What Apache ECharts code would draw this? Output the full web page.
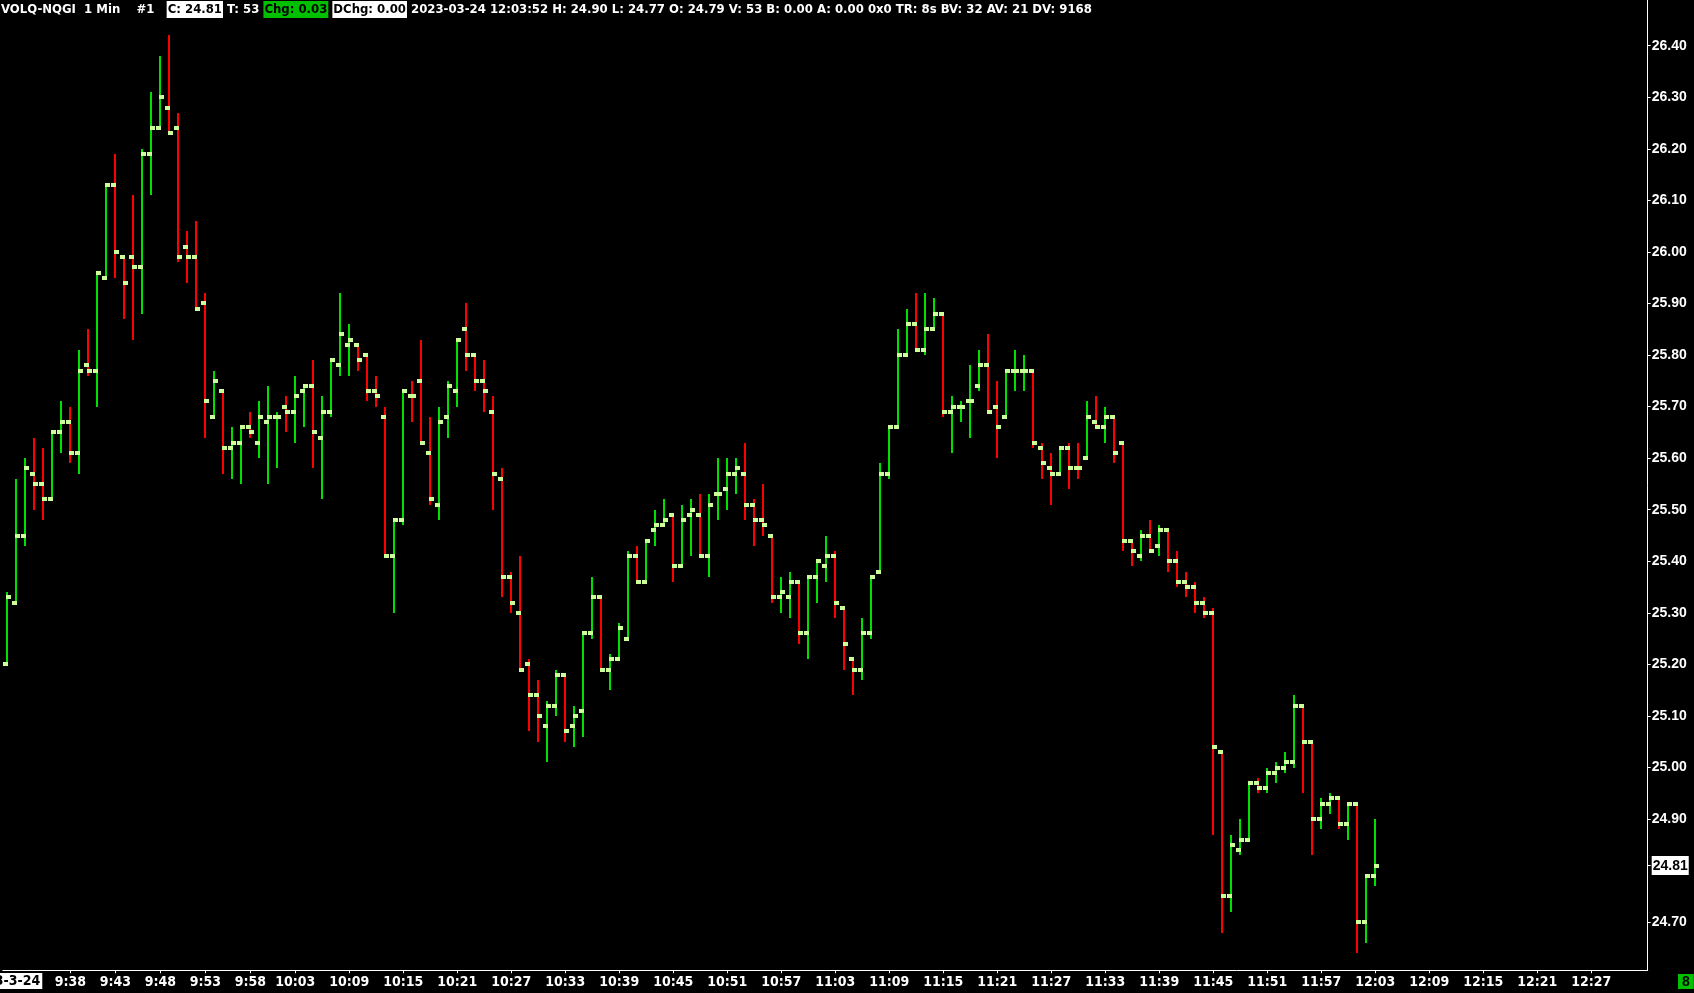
<!DOCTYPE html>
<html><head><meta charset="utf-8">
<script src="https://cdn.jsdelivr.net/npm/echarts@6/dist/echarts.min.js"></script>
<style>html,body{margin:0;padding:0;background:#000;overflow:hidden}#c{width:1694px;height:993px}</style>
</head><body><div id="c"></div>
<script>
// ---- data ----
const times = [
'9:31','9:32','9:33','9:34','9:35','9:36','9:37','9:38','9:39','9:40','9:41','9:42','9:43','9:44','9:45','9:46','9:47','9:48','9:49','9:50','9:51','9:52','9:53','9:54','9:55','9:56','9:57','9:58','9:59',
'10:00','10:01','10:02','10:03','10:04','10:05','10:06','10:07','10:08','10:09','10:10','10:11','10:12','10:13','10:14','10:15','10:16','10:17','10:18','10:19','10:20','10:21','10:22','10:23','10:24','10:25','10:26','10:27','10:28','10:29','10:30','10:31','10:32','10:33','10:34','10:35','10:36','10:37','10:38','10:39','10:40','10:41','10:42','10:43','10:44','10:45','10:46','10:47','10:48','10:49','10:50','10:51','10:52','10:53','10:54','10:55','10:56','10:57','10:58','10:59',
'11:00','11:01','11:02','11:03','11:04','11:05','11:06','11:07','11:08','11:09','11:10','11:11','11:12','11:13','11:14','11:15','11:16','11:17','11:18','11:19','11:20','11:21','11:22','11:23','11:24','11:25','11:26','11:27','11:28','11:29','11:30','11:31','11:32','11:33','11:34','11:35','11:36','11:37','11:38','11:39','11:40','11:41','11:42','11:43','11:44','11:45','11:46','11:47','11:48','11:49','11:50','11:51','11:52','11:53','11:54','11:55','11:56','11:57','11:58','11:59',
'12:00','12:01','12:02','12:03','12:04','12:05','12:06','12:07','12:08','12:09','12:10','12:11','12:12','12:13','12:14','12:15','12:16','12:17','12:18','12:19','12:20','12:21','12:22','12:23','12:24','12:25','12:26','12:27','12:28','12:29','12:30','12:31','12:32','12:33'];

const timeLabels = ['9:38','9:43','9:48','9:53','9:58','10:03','10:09','10:15','10:21','10:27','10:33','10:39','10:45','10:51','10:57','11:03','11:09','11:15','11:21','11:27','11:33','11:39','11:45','11:51','11:57','12:03','12:09','12:15','12:21','12:27'];
const priceTicks = [26.40,26.30,26.20,26.10,26.00,25.90,25.80,25.70,25.60,25.50,25.40,25.30,25.20,25.10,25.00,24.90,24.70];
const lastPrice = 24.81;

const opens = [25.20,25.32,25.45,25.57,25.55,25.52,25.65,25.67,25.61,25.78,25.77,25.95,26.13,25.99,25.99,25.97,26.19,26.24,26.28,26.24,
26.01,25.99,25.90,25.68,25.73,25.62,25.63,25.66,25.63,25.67,25.68,25.70,25.69,25.73,25.74,25.64,25.69,25.78,25.82,25.82,
25.80,25.73,25.68,25.41,25.48,25.72,25.75,25.61,25.51,25.68,25.73,25.85,25.80,25.75,25.69,25.56,25.37,25.30,25.20,25.14,
25.08,25.12,25.18,25.08,25.11,25.26,25.33,25.19,25.21,25.25,25.41,25.36,25.46,25.47,25.49,25.39,25.49,25.49,25.41,25.53,
25.54,25.57,25.57,25.51,25.48,25.45,25.33,25.33,25.36,25.26,25.37,25.39,25.41,25.31,25.21,25.19,25.26,25.38,25.57,25.66,
25.80,25.86,25.81,25.85,25.88,25.69,25.70,25.71,25.74,25.78,25.70,25.68,25.77,25.77,25.77,25.62,25.58,25.57,25.62,25.58,
25.60,25.67,25.66,25.68,25.63,25.44,25.41,25.45,25.43,25.46,25.40,25.36,25.35,25.32,25.30,25.03,24.75,24.84,24.86,24.97,
24.96,24.99,25.00,25.01,25.12,25.05,24.90,24.93,24.94,24.89,24.93,24.70,24.79];
const highs = [25.34,25.56,25.60,25.64,25.62,25.65,25.71,25.70,25.81,25.85,25.96,26.13,26.19,25.99,26.11,26.20,26.31,26.38,26.42,26.27,
26.04,26.06,25.92,25.77,25.73,25.66,25.66,25.69,25.71,25.74,25.69,25.72,25.76,25.74,25.79,25.72,25.79,25.92,25.86,25.82,
25.80,25.76,25.70,25.48,25.73,25.75,25.83,25.68,25.70,25.75,25.83,25.90,25.80,25.79,25.72,25.58,25.38,25.41,25.21,25.17,
25.13,25.19,25.18,25.12,25.26,25.37,25.33,25.22,25.28,25.42,25.43,25.44,25.50,25.52,25.49,25.51,25.52,25.53,25.53,25.60,
25.60,25.60,25.63,25.52,25.55,25.45,25.37,25.38,25.36,25.37,25.40,25.45,25.42,25.31,25.21,25.29,25.37,25.59,25.66,25.85,
25.89,25.92,25.92,25.91,25.88,25.72,25.71,25.78,25.81,25.84,25.75,25.77,25.81,25.80,25.77,25.63,25.61,25.62,25.63,25.63,
25.71,25.72,25.70,25.68,25.63,25.44,25.46,25.48,25.47,25.46,25.42,25.38,25.36,25.33,25.31,25.03,24.87,24.90,24.97,24.98,
25.00,25.01,25.03,25.14,25.12,25.05,24.94,24.95,24.94,24.93,24.93,24.79,24.90];
const lows = [25.20,25.32,25.43,25.50,25.48,25.52,25.61,25.59,25.57,25.76,25.70,25.95,25.95,25.87,25.83,25.88,26.11,26.24,26.23,25.98,
25.94,25.89,25.64,25.68,25.57,25.56,25.55,25.64,25.60,25.55,25.58,25.65,25.63,25.66,25.58,25.52,25.68,25.76,25.76,25.77,
25.71,25.70,25.41,25.30,25.47,25.67,25.63,25.51,25.48,25.64,25.70,25.77,25.73,25.69,25.50,25.33,25.30,25.19,25.07,25.05,
25.01,25.10,25.05,25.04,25.06,25.25,25.19,25.15,25.21,25.25,25.36,25.36,25.43,25.47,25.36,25.39,25.41,25.41,25.37,25.48,
25.50,25.53,25.48,25.43,25.45,25.32,25.30,25.29,25.24,25.21,25.32,25.36,25.29,25.19,25.14,25.17,25.25,25.38,25.56,25.66,
25.80,25.81,25.80,25.85,25.68,25.61,25.67,25.64,25.73,25.69,25.60,25.68,25.73,25.73,25.62,25.56,25.51,25.57,25.54,25.56,
25.60,25.66,25.63,25.59,25.42,25.39,25.40,25.42,25.41,25.38,25.35,25.33,25.30,25.29,24.87,24.68,24.72,24.83,24.86,24.95,
24.95,24.97,24.99,25.00,24.95,24.83,24.88,24.91,24.88,24.86,24.64,24.66,24.77];
const closes = [25.33,25.45,25.58,25.55,25.52,25.65,25.67,25.61,25.77,25.77,25.96,26.13,26.00,25.94,25.97,26.19,26.24,26.30,26.23,25.99,
25.99,25.89,25.71,25.75,25.62,25.63,25.66,25.65,25.68,25.68,25.68,25.69,25.72,25.74,25.65,25.69,25.79,25.84,25.83,25.79,
25.73,25.72,25.41,25.48,25.73,25.72,25.63,25.52,25.67,25.74,25.83,25.80,25.75,25.73,25.57,25.37,25.32,25.19,25.14,25.10,
25.12,25.18,25.07,25.10,25.26,25.33,25.19,25.21,25.27,25.41,25.36,25.44,25.47,25.48,25.39,25.48,25.50,25.41,25.51,25.53,
25.57,25.58,25.51,25.48,25.47,25.33,25.34,25.36,25.26,25.37,25.40,25.41,25.32,25.24,25.19,25.26,25.37,25.57,25.66,25.80,
25.86,25.81,25.85,25.88,25.69,25.70,25.70,25.71,25.78,25.69,25.66,25.77,25.77,25.77,25.63,25.59,25.57,25.62,25.58,25.58,
25.68,25.66,25.68,25.61,25.44,25.42,25.45,25.42,25.46,25.40,25.36,25.35,25.32,25.30,25.04,24.75,24.85,24.86,24.97,24.96,
24.99,25.00,25.01,25.12,25.05,24.90,24.93,24.94,24.89,24.93,24.70,24.79,24.81];

// ---- build ----
const GREEN = '#00e000', RED = '#ff0000', TICKC = '#ccff99';
const FONT_NARROW = "'Liberation Sans Narrow','DejaVu Sans Condensed','Roboto Condensed','Liberation Sans',Arial,sans-serif";
const FONT_AX = "'Liberation Sans',Arial,sans-serif";
const data = [];
let prevUp = true;
for (let i = 0; i < opens.length; i++) {
  let up;
  if (closes[i] > opens[i]) up = true;
  else if (closes[i] < opens[i]) up = false;
  else if (i > 0 && closes[i] > closes[i-1]) up = true;
  else if (i > 0 && closes[i] < closes[i-1]) up = false;
  else up = prevUp;
  prevUp = up;
  data.push([i, opens[i], highs[i], lows[i], closes[i], up ? 1 : 0]);
}
const labelIdx = timeLabels.map(t => times.indexOf(t));

const chart = echarts.init(document.getElementById('c'), null, {renderer: 'canvas'});
const header = '{a|VOLQ-NQGI  1 Min    #1   }{w|C: 24.81}{a| T: 53 }{g|Chg: 0.03}{a| }{w|DChg: 0.00}{a| 2023-03-24 12:03:52 H: 24.90 L: 24.77 O: 24.79 V: 53 B: 0.00 A: 0.00 0x0 TR: 8s BV: 32 AV: 21 DV: 9168}';
chart.setOption({
  animation: false,
  backgroundColor: '#000',
  title: [
    {text: header, left: 1, top: 1, padding: 0,
     textStyle: {fontFamily: FONT_NARROW, fontSize: 13, fontWeight: 'bold',
       rich: {
         a: {color: '#fff', fontFamily: FONT_NARROW, fontSize: 13, fontWeight: 'bold', padding: [2,0,2,0]},
         w: {color: '#000', backgroundColor: '#fff', fontFamily: FONT_NARROW, fontSize: 13, fontWeight: 'bold', padding: [2,1,2,1]},
         g: {color: '#000', backgroundColor: '#00c000', fontFamily: FONT_NARROW, fontSize: 13, fontWeight: 'bold', padding: [2,1,2,1]}
       }}},
    {text: '23-3-24', left: -16, top: 973, padding: [1,2,1,2], backgroundColor: '#fff',
     textStyle: {color: '#000', fontFamily: FONT_NARROW, fontSize: 14, fontWeight: 'bold'}},
    {text: '8', left: 1678, top: 974, padding: [1,4,0,4], backgroundColor: '#00c000',
     textStyle: {color: '#000', fontFamily: FONT_AX, fontSize: 14, fontWeight: 'bold'}}
  ],
  grid: {left: 2.8, right: 46.3, top: 0, bottom: 22.7, containLabel: false},
  xAxis: {
    type: 'value', min: -0.5, max: 182.2667, position: 'bottom',
    splitLine: {show: false},
    axisLine: {show: true, onZero: false, lineStyle: {color: '#fff', width: 1}},
    axisTick: {show: true, inside: false, length: 3, lineStyle: {color: '#fff'}, customValues: labelIdx},
    axisLabel: {show: true, customValues: labelIdx, margin: 5, color: '#fff',
      fontFamily: FONT_NARROW, fontSize: 14, fontWeight: 'bold',
      formatter: v => times[Math.round(v)]}
  },
  yAxis: {
    type: 'value', position: 'right', min: 24.6068, max: 26.4886, scale: true,
    splitLine: {show: false},
    axisLine: {show: true, onZero: false, lineStyle: {color: '#fff', width: 1}},
    axisTick: {show: true, inside: false, length: 3, lineStyle: {color: '#fff'}, customValues: priceTicks.concat([lastPrice])},
    axisLabel: {show: true, customValues: priceTicks.concat([lastPrice]), margin: 4, color: '#fff',
      fontFamily: FONT_AX, fontSize: 14, fontWeight: 'bold',
      formatter: v => Math.abs(v - lastPrice) < 0.001 ? '{hl|' + v.toFixed(2) + '}' : v.toFixed(2),
      rich: {hl: {color: '#000', backgroundColor: '#fff', fontFamily: FONT_AX,
        fontSize: 14, fontWeight: 'bold', padding: [3,1,2,1]}}}
  },
  series: [{
    type: 'custom',
    data: data,
    encode: {x: 0, y: [1, 2, 3, 4]},
    clip: false,
    renderItem: function (params, api) {
      const i = api.value(0);
      const pH = api.coord([i, api.value(2)]);
      const pL = api.coord([i, api.value(3)]);
      const pO = api.coord([i, api.value(1)]);
      const pC = api.coord([i, api.value(4)]);
      const cx = Math.round(pH[0]);
      const yH = Math.round(pH[1]), yL = Math.round(pL[1]);
      const col = api.value(5) ? GREEN : RED;
      return {type: 'group', children: [
        {type: 'rect', shape: {x: cx - 1, y: yH, width: 2, height: Math.max(1, yL - yH)}, style: {fill: col}},
        {type: 'rect', shape: {x: cx - 4, y: Math.round(pO[1]) - 2, width: 5, height: 4}, style: {fill: TICKC}},
        {type: 'rect', shape: {x: cx - 1, y: Math.round(pC[1]) - 2, width: 5, height: 4}, style: {fill: TICKC}}
      ]};
    }
  }]
});
</script></body></html>
